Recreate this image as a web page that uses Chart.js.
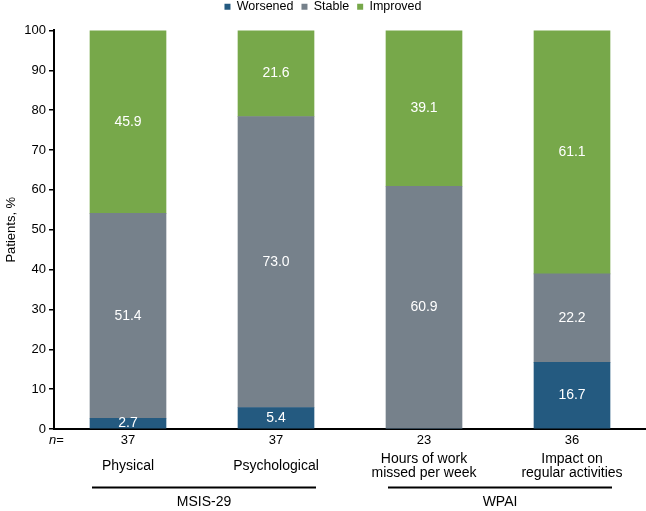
<!DOCTYPE html>
<html>
<head>
<meta charset="utf-8">
<script src="https://cdn.jsdelivr.net/npm/chart.js@4/dist/chart.umd.min.js"></script>
<style>
  body { margin: 0; background: #fff; }
  #wrap { width: 646px; height: 511px; }
</style>
</head>
<body>
<div id="wrap"><canvas id="outcomes"></canvas></div>
<script>
const categories = [["Physical"], ["Psychological"], ["Hours of work", "missed per week"], ["Impact on", "regular activities"]];
const counts = [37, 37, 23, 36];
const worsened = [2.7, 5.4, 0, 16.7];
const stable = [51.4, 73.0, 60.9, 22.2];
const improved = [45.9, 21.6, 39.1, 61.1];
const groupNames = ["MSIS-29", "WPAI"];
const groupFirst = [0, 2];
const groupLast = [1, 3];

const FONT = "'Liberation Sans', Arial, sans-serif";
Chart.defaults.font.family = FONT;
Chart.defaults.font.size = 13;
Chart.defaults.color = "#000";

// white value labels in the middle of each segment
const segmentLabels = {
  id: "segmentLabels",
  afterDatasetsDraw(chart) {
    const ctx = chart.ctx;
    ctx.save();
    ctx.font = "14px " + FONT;
    ctx.fillStyle = "#fff";
    ctx.textAlign = "center";
    ctx.textBaseline = "middle";
    chart.data.datasets.forEach((ds, i) => {
      chart.getDatasetMeta(i).data.forEach((bar, j) => {
        const v = ds.data[j];
        if (!v) return;
        const p = bar.getProps(["x", "y", "base"], true);
        ctx.fillText(v.toFixed(1), p.x, (p.y + p.base) / 2);
      });
    });
    ctx.restore();
  }
};

// n= row, category names and group brackets under the axis
const underAxis = {
  id: "underAxis",
  afterInit(chart) {
    const lg = chart.legend;
    const fit = lg.fit;
    lg.fit = function () { fit.call(this); this.height += 7.4; };
  },
  afterDraw(chart) {
    const ctx = chart.ctx;
    const x = chart.scales.x;
    ctx.save();
    ctx.fillStyle = "#000";
    ctx.textBaseline = "middle";
    ctx.textAlign = "left";
    ctx.font = "italic 13px " + FONT;
    ctx.fillText("n", 49, 440);
    const nw = ctx.measureText("n").width;
    ctx.font = "13px " + FONT;
    ctx.fillText("=", 49 + nw, 440);

    ctx.textAlign = "center";
    counts.forEach((n, i) => ctx.fillText(String(n), x.getPixelForValue(i), 440));

    ctx.font = "14px " + FONT;
    categories.forEach((lines, i) => {
      const y0 = 466 - (lines.length - 1) * 13.5 / 2;
      lines.forEach((t, k) => ctx.fillText(t, x.getPixelForValue(i), y0 + k * 13.5));
    });

    ctx.strokeStyle = "#000";
    ctx.lineWidth = 1.8;
    groupNames.forEach((g, i) => {
      const a = x.getPixelForValue(groupFirst[i]) - 36;
      const b = x.getPixelForValue(groupLast[i]) + 40;
      ctx.beginPath();
      ctx.moveTo(a, 487.5);
      ctx.lineTo(b, 487.5);
      ctx.stroke();
      ctx.fillText(g, (a + b) / 2, 502);
    });
    ctx.restore();
  }
};

new Chart(document.getElementById("outcomes"), {
  type: "bar",
  data: {
    labels: categories,
    datasets: [
      { label: "Worsened", data: worsened, backgroundColor: "#245a80" },
      { label: "Stable", data: stable, backgroundColor: "#76818b" },
      { label: "Improved", data: improved, backgroundColor: "#77a84a" }
    ]
  },
  options: {
    responsive: true,
    maintainAspectRatio: false,
    animation: false,
    layout: { padding: { top: -7.5, left: 0, right: 0, bottom: 0 } },
    datasets: { bar: { barThickness: 76 } },
    plugins: {
      legend: {
        position: "top",
        labels: {
          boxWidth: 6,
          boxHeight: 6,
          padding: 8,
          font: { size: 12.5 },
          color: "#000"
        }
      },
      tooltip: { enabled: false }
    },
    scales: {
      x: {
        stacked: true,
        grid: { display: false },
        border: { color: "#000", width: 2 },
        ticks: { display: false },
        afterFit(s) { s.height = 82; }
      },
      y: {
        stacked: true,
        min: 0,
        max: 100,
        ticks: { stepSize: 10, padding: 3, font: { size: 13 } },
        grid: { drawOnChartArea: false, drawTicks: true, tickLength: 5, color: "#000", lineWidth: 1.5 },
        border: { color: "#000", width: 2 },
        title: { display: true, text: "Patients, %", font: { size: 13 } },
        afterFit(s) { s.width = 54; }
      }
    }
  },
  plugins: [segmentLabels, underAxis]
});
</script>
</body>
</html>
